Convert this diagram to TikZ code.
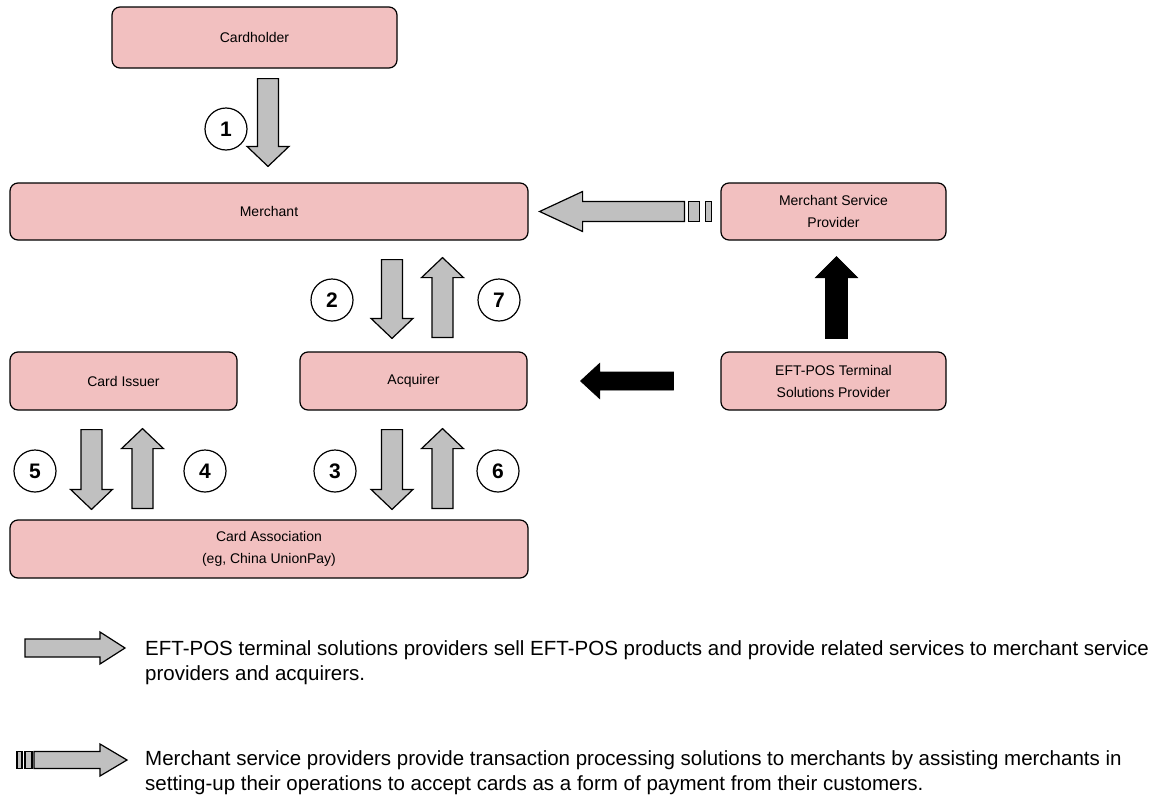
\documentclass[tikz,border=0pt]{standalone}
\usepackage{fontspec}
\setmainfont{Liberation Sans}
\usetikzlibrary{calc}

\definecolor{boxpink}{HTML}{F2C0C0}
\definecolor{arrowgray}{HTML}{C0C0C0}

\tikzset{
    fat shaft/.store in=\fatshaft,
    fat head/.store in=\fathead,
    fat len/.store in=\fatlen,
    fat shaft=10.5pt,
    fat head=21pt,
    fat len=20pt
}

% block arrow from #2 (tail) to #3 (tip)
\newcommand{\fatarrow}[3][]{%
    \path[#1] let \p1=#2, \p2=#3, \p3=($(\p2)!\fatlen!(\p1)$) in
        ($(\p1)!\fatshaft!90:(\p2)$) -- ($(\p3)!\fatshaft!-90:(\p1)$)
        -- ($(\p3)!\fathead!-90:(\p1)$) -- (\p2)
        -- ($(\p3)!\fathead!90:(\p1)$) -- ($(\p3)!\fatshaft!90:(\p1)$)
        -- ($(\p1)!\fatshaft!-90:(\p2)$) -- cycle;
}

\begin{document}
\begin{tikzpicture}[
                x=1pt, y=-1pt,
                box/.style={
                    draw=black,
                    fill=boxpink,
                    line width=1.2pt,
                    rectangle,
                    rounded corners=8pt,
                    minimum height=58pt,
                    align=center,
                    inner sep=0pt,
                    font=\fontsize{14}{22}\selectfont
                },
                numcircle/.style={
                    draw=black,
                    line width=1.2pt,
                    circle,
                    minimum size=42pt,
                    inner sep=0pt,
                    font=\fontsize{21}{21}\selectfont\bfseries
                },
                grayarrow/.style={
                    draw=black,
                    fill=arrowgray,
                    line width=1.2pt,
                    line join=miter
                },
                blackarrow/.style={
                    draw=black,
                    fill=black,
                    line width=0.8pt
                },
                legendtext/.style={
                    anchor=west,
                    align=left,
                    inner sep=0pt,
                    font=\fontsize{20.5}{25}\selectfont
                }
            ]
    \useasboundingbox (0,0) rectangle (1162,798);

    \node[box, minimum width=285pt, minimum height=61pt] (cardholder) at (254.5,37.5) {Cardholder};
    \node[box, minimum width=518pt, minimum height=57pt] (merchant) at (269,211.5) {Merchant};
    \node[box, minimum width=225pt, minimum height=57pt] (msp) at (833.5,211.5) {Merchant Service\\Provider};
    \node[box, minimum width=227pt] (issuer) at (123.5,381) {Card Issuer};
    \node[box, minimum width=227pt] (acquirer) at (413.5,381) {Acquirer};
    \node[box, minimum width=225pt] (eftpos) at (833.5,381) {EFT-POS Terminal\\Solutions Provider};
    \node[box, minimum width=518pt] (assoc) at (269,549) {Card Association\\(eg, China UnionPay)};

    \node[numcircle] (n1) at (226,129) {1};
    \node[numcircle] (n2) at (332,300) {2};
    \node[numcircle] (n7) at (499,300) {7};
    \node[numcircle] (n5) at (35,471) {5};
    \node[numcircle] (n4) at (205,471) {4};
    \node[numcircle] (n3) at (335,471) {3};
    \node[numcircle] (n6) at (498,471) {6};

    \fatarrow[grayarrow]{($(cardholder.south)+(13.5,10)$)}{($(merchant.north)+(-1,-16)$)}
    \fatarrow[grayarrow]{($(merchant.south)+(123,19)$)}{($(acquirer.north)+(-21.5,-13)$)}
    \fatarrow[grayarrow]{($(acquirer.north)+(29,-14)$)}{($(merchant.south)+(173.5,17)$)}
    \fatarrow[grayarrow]{($(issuer.south)+(-32,19)$)}{($(assoc.north)+(-177.5,-10)$)}
    \fatarrow[grayarrow]{($(assoc.north)+(-126.5,-11)$)}{($(issuer.south)+(19,18)$)}
    \fatarrow[grayarrow]{($(acquirer.south)+(-21.5,19)$)}{($(assoc.north)+(123,-10)$)}
    \fatarrow[grayarrow]{($(assoc.north)+(173.5,-11)$)}{($(acquirer.south)+(29,18)$)}

    \fatarrow[grayarrow, fat shaft=10pt, fat head=20pt, fat len=43pt]{($(msp.west)+(-36,0)$)}{($(merchant.east)+(11,0)$)}
    \draw[grayarrow] ($(msp.west)+(-32,-10)$) rectangle ++(11,20);
    \draw[grayarrow] ($(msp.west)+(-15,-10)$) rectangle ++(6,20);

    \fatarrow[blackarrow, fat shaft=9pt, fat head=17.5pt, fat len=19pt]{($(eftpos.west)+(-47,0)$)}{($(acquirer.east)+(53,0)$)}
    \fatarrow[blackarrow, fat shaft=11pt, fat head=21pt, fat len=21pt]{($(eftpos.north)+(3,-13)$)}{($(msp.south)+(3,16)$)}

    \coordinate (leg1) at (25,648);
    \coordinate (leg2) at (34,760);
    \fatarrow[grayarrow, fat shaft=9pt, fat head=16pt, fat len=25pt]{(leg1)}{($(leg1)+(100,0)$)}
    \fatarrow[grayarrow, fat shaft=8.5pt, fat head=16pt, fat len=27pt]{(leg2)}{($(leg2)+(93,0)$)}
    \draw[grayarrow] ($(leg2)+(-17,-8.5)$) rectangle ++(5,17);
    \draw[grayarrow] ($(leg2)+(-9,-8.5)$) rectangle ++(7,17);

    \node[legendtext] (legtext1) at (145,663) {EFT-POS terminal solutions providers sell EFT-POS products and provide related services to merchant service\\providers and acquirers.};
    \node[legendtext] (legtext2) at (145,773) {Merchant service providers provide transaction processing solutions to merchants by assisting merchants in\\setting-up their operations to accept cards as a form of payment from their customers.};
\end{tikzpicture}
\end{document}
